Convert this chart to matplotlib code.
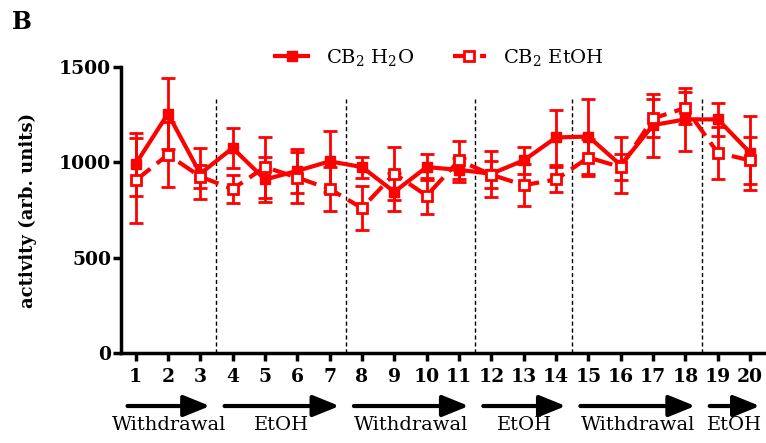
import numpy as np
import matplotlib
matplotlib.use("Agg")
import matplotlib.pyplot as plt

plt.rcParams['font.family'] = ['DejaVu Serif']
plt.rcParams['mathtext.fontset'] = 'dejavuserif'

days = list(range(1, 21))
h2o = [990, 1255, 940, 1075, 910, 955, 1005, 975, 845, 975,
       960, 940, 1010, 1130, 1135, 985, 1195, 1225, 1225, 1050]
h2o_err = [165, 185, 135, 105, 120, 115, 160, 55, 100, 70,
           65, 120, 70, 145, 195, 145, 165, 165, 85, 195]
etoh = [905, 1040, 925, 860, 975, 920, 860, 760, 940, 825,
        1010, 935, 880, 910, 1025, 975, 1230, 1285, 1050, 1010]
etoh_err = [222, 170, 60, 75, 160, 135, 115, 115, 140, 95,
            100, 70, 110, 65, 95, 70, 100, 85, 135, 125]

phases = ["Withdrawal", "EtOH", "Withdrawal", "EtOH", "Withdrawal", "EtOH"]
phase_days = [(1, 3), (4, 7), (8, 11), (12, 14), (15, 18), (19, 20)]

red = '#ff0000'

fig = plt.figure(figsize=(7.66, 4.43), dpi=100)
ax = fig.add_axes([0.158, 0.203, 0.842, 0.646])

eb1 = ax.errorbar(days, h2o, yerr=h2o_err, color=red, lw=3, marker='s', ms=7.5,
                  mfc=red, mec=red, elinewidth=2, capsize=5, capthick=2)
eb2 = ax.errorbar(days, etoh, yerr=etoh_err, color=red, lw=3, ls=(0, (4.5, 2)),
                  marker='s', ms=7, mfc='white', mec=red, mew=2,
                  elinewidth=2, capsize=5, capthick=2)

# boundaries between phases
for first, last in phase_days[:-1]:
    ax.vlines(last + 0.5, 0, 1330, colors='black', linestyles=(0, (3, 2)), lw=1)

ax.set_xlim(0.55, 20.49)
ax.set_ylim(0, 1500)
ax.set_xticks(days)
ax.set_yticks([0, 500, 1000, 1500])
for s in ['top', 'right']:
    ax.spines[s].set_visible(False)
for s in ['left', 'bottom']:
    ax.spines[s].set_linewidth(2.5)
ax.tick_params(axis='both', length=6, width=2.5, labelsize=13.5)
ax.tick_params(axis='x', pad=5)
ax.tick_params(axis='y', pad=1)
for lab in ax.get_xticklabels() + ax.get_yticklabels():
    lab.set_fontweight('bold')
ax.set_ylabel('activity (arb. units)', fontsize=13, fontweight='bold', labelpad=16)

for name, (first, last) in zip(phases, phase_days):
    x0 = first - 0.25
    x1 = min(last + 0.3, 20.4)
    ax.annotate('', xy=(x1, -0.185), xytext=(x0, -0.185),
                xycoords=('data', 'axes fraction'),
                arrowprops=dict(arrowstyle='-|>,head_length=1.6,head_width=0.65',
                                mutation_scale=10, lw=3, color='black',
                                shrinkA=0, shrinkB=0),
                annotation_clip=False)
    ax.text((x0 + x1) / 2, -0.252, name, transform=ax.get_xaxis_transform(),
            ha='center', va='center', fontsize=14)

fig.legend([eb1[0], eb2[0]], ['CB$_2$ H$_2$O', 'CB$_2$ EtOH'],
           loc='center', bbox_to_anchor=(0.574, 0.871), ncol=2, frameon=False,
           fontsize=14, handlelength=1.7, handletextpad=0.9, columnspacing=2.0)

fig.text(0.016, 0.95, 'B', fontsize=17, fontweight='bold', va='center')

fig.savefig('out.png', dpi=100)
